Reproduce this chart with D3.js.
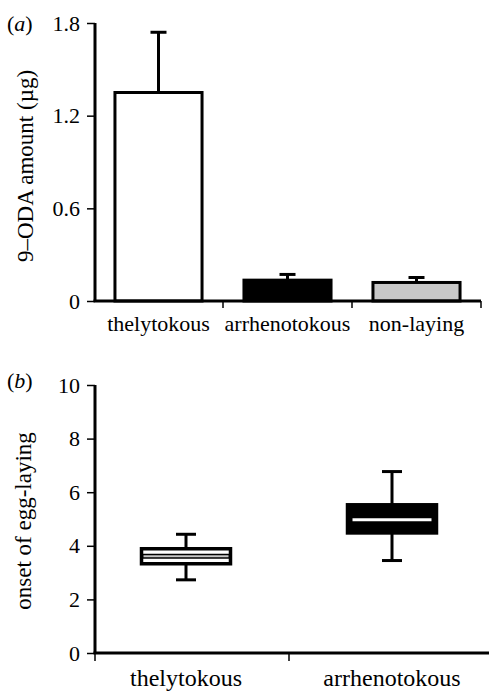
<!DOCTYPE html>
<html><head><meta charset="utf-8">
<script src="https://cdn.jsdelivr.net/npm/d3@7"></script>
<style>body{margin:0;background:#fff}svg{display:block}</style>
</head><body>
<svg id="c" width="489" height="691"></svg>
<script>
// Panel (a) data
const catsA = ["thelytokous", "arrhenotokous", "non-laying"];
const meanA = [1.35, 0.135, 0.12];
const errTopA = [1.74, 0.172, 0.152];
const fillA = ["#ffffff", "#000000", "#c8c8c8"];
const ticksA = [0, 0.6, 1.2, 1.8];
// Panel (b) data
const catsB = ["thelytokous", "arrhenotokous"];
const minB = [2.73, 3.45];
const q1B = [3.33, 4.48];
const medB = [3.61, 4.97];
const q3B = [3.89, 5.53];
const maxB = [4.43, 6.77];
const ticksB = [0, 2, 4, 6, 8, 10];

const FONT = "'Liberation Serif', Tinos, 'Times New Roman', 'DejaVu Serif', serif";
const svg = d3.select("#c").attr("font-family", FONT);
const SW = 3;

// ---------- Panel a ----------
const yA = d3.scaleLinear().domain([0, 1.8]).range([301, 23]);
const xA = d3.scaleBand().domain(catsA).range([94, 481]).paddingInner(0.325).paddingOuter(0.1625);
const gA = svg.append("g");

gA.selectAll("rect.bar").data(catsA).join("rect")
  .attr("x", d => xA(d)).attr("width", xA.bandwidth())
  .attr("y", (d, i) => yA(meanA[i])).attr("height", (d, i) => yA(0) - yA(meanA[i]))
  .attr("fill", (d, i) => fillA[i]).attr("stroke", "#000").attr("stroke-width", SW);

gA.selectAll("line.err").data(catsA).join("line")
  .attr("x1", d => xA(d) + xA.bandwidth() / 2).attr("x2", d => xA(d) + xA.bandwidth() / 2)
  .attr("y1", (d, i) => yA(meanA[i])).attr("y2", (d, i) => yA(errTopA[i]))
  .attr("stroke", "#000").attr("stroke-width", SW);
gA.selectAll("line.cap").data(catsA).join("line")
  .attr("x1", d => xA(d) + xA.bandwidth() / 2 - 8).attr("x2", d => xA(d) + xA.bandwidth() / 2 + 8)
  .attr("y1", (d, i) => yA(errTopA[i])).attr("y2", (d, i) => yA(errTopA[i]))
  .attr("stroke", "#000").attr("stroke-width", SW);

const axA = gA.append("g").attr("transform", "translate(95,0)")
  .call(d3.axisLeft(yA).tickValues(ticksA).tickSize(8).tickPadding(7)
    .tickFormat(d => d === 0 ? "0" : d3.format(".1f")(d)));
axA.attr("font-family", FONT).attr("font-size", 22);
axA.select(".domain").attr("stroke-width", SW).attr("d", `M0,${yA(1.8)}V${yA(0)}`);
axA.selectAll(".tick line").attr("stroke-width", 1.5);

// x axis a
gA.append("line").attr("x1", 93.5).attr("x2", 481).attr("y1", yA(0)).attr("y2", yA(0))
  .attr("stroke", "#000").attr("stroke-width", SW);
gA.selectAll("line.xt").data(catsA).join("line")
  .attr("x1", d => xA(d) + xA.bandwidth() / 2 + xA.step() / 2).attr("x2", d => xA(d) + xA.bandwidth() / 2 + xA.step() / 2)
  .attr("y1", yA(0)).attr("y2", yA(0) + 7).attr("stroke", "#000").attr("stroke-width", 1.5);
gA.selectAll("text.xl").data(catsA).join("text")
  .attr("x", d => xA(d) + xA.bandwidth() / 2).attr("y", 331)
  .attr("text-anchor", "middle").attr("font-size", 22).text(d => d);

gA.append("text").attr("x", 7).attr("y", 31).attr("font-size", 22)
  .html('(<tspan font-style="italic">a</tspan>)');
gA.append("text").attr("transform", "translate(33,166) rotate(-90)")
  .attr("text-anchor", "middle").attr("font-size", 23).text("9–ODA amount (µg)");

// ---------- Panel b ----------
const yB = d3.scaleLinear().domain([0, 10]).range([653, 385]);
const xB = d3.scaleBand().domain(catsB).range([83, 495]).paddingInner(0.568).paddingOuter(0.284);
const gB = svg.append("g");
const cx = d => xB(d) + xB.bandwidth() / 2;

gB.selectAll("line.wh").data(catsB).join("line")
  .attr("x1", cx).attr("x2", cx)
  .attr("y1", (d, i) => yB(minB[i])).attr("y2", (d, i) => yB(maxB[i]))
  .attr("stroke", "#000").attr("stroke-width", SW);
[minB, maxB].forEach(arr => {
  gB.selectAll(null).data(catsB).join("line")
    .attr("x1", d => cx(d) - 10).attr("x2", d => cx(d) + 10)
    .attr("y1", (d, i) => yB(arr[i])).attr("y2", (d, i) => yB(arr[i]))
    .attr("stroke", "#000").attr("stroke-width", SW);
});
gB.selectAll("rect.box").data(catsB).join("rect")
  .attr("x", d => xB(d)).attr("width", xB.bandwidth())
  .attr("y", (d, i) => yB(q3B[i])).attr("height", (d, i) => yB(q1B[i]) - yB(q3B[i]))
  .attr("fill", (d, i) => i === 0 ? "#fff" : "#000").attr("stroke", "#000").attr("stroke-width", 3.5);
gB.selectAll("line.medo").data(catsB).join("line")
  .attr("x1", d => xB(d)).attr("x2", d => xB(d) + xB.bandwidth())
  .attr("y1", (d, i) => yB(medB[i])).attr("y2", (d, i) => yB(medB[i]))
  .attr("stroke", "#000").attr("stroke-width", (d, i) => i === 0 ? 5 : 0);
gB.selectAll("line.med").data(catsB).join("line")
  .attr("x1", (d, i) => xB(d) + (i === 0 ? 2 : 5)).attr("x2", (d, i) => xB(d) + xB.bandwidth() - (i === 0 ? 2 : 5))
  .attr("y1", (d, i) => yB(medB[i])).attr("y2", (d, i) => yB(medB[i]))
  .attr("stroke", (d, i) => i === 0 ? "#c8c8c8" : "#fff").attr("stroke-width", (d, i) => i === 0 ? 2 : 3);

const axB = gB.append("g").attr("transform", "translate(95,0)")
  .call(d3.axisLeft(yB).tickValues(ticksB).tickSize(8).tickPadding(7));
axB.attr("font-family", FONT).attr("font-size", 22);
axB.select(".domain").attr("stroke-width", SW).attr("d", `M0,${yB(10)}V${yB(0)}`);
axB.selectAll(".tick line").attr("stroke-width", 1.5);

gB.append("line").attr("x1", 93.5).attr("x2", 489).attr("y1", yB(0)).attr("y2", yB(0))
  .attr("stroke", "#000").attr("stroke-width", SW);
const tickXB = [95, cx(catsB[0]) + xB.step() / 2];
gB.selectAll("line.xt").data(tickXB).join("line")
  .attr("x1", d => d).attr("x2", d => d).attr("y1", yB(0)).attr("y2", yB(0) + 8)
  .attr("stroke", "#000").attr("stroke-width", 1.5);
gB.selectAll("text.xl").data(catsB).join("text")
  .attr("x", cx).attr("y", 686)
  .attr("text-anchor", "middle").attr("font-size", 24).text(d => d);

gB.append("text").attr("x", 7).attr("y", 388).attr("font-size", 22)
  .html('(<tspan font-style="italic">b</tspan>)');
gB.append("text").attr("transform", "translate(31,521) rotate(-90)")
  .attr("text-anchor", "middle").attr("font-size", 23).text("onset of egg-laying");
</script>
</body></html>
